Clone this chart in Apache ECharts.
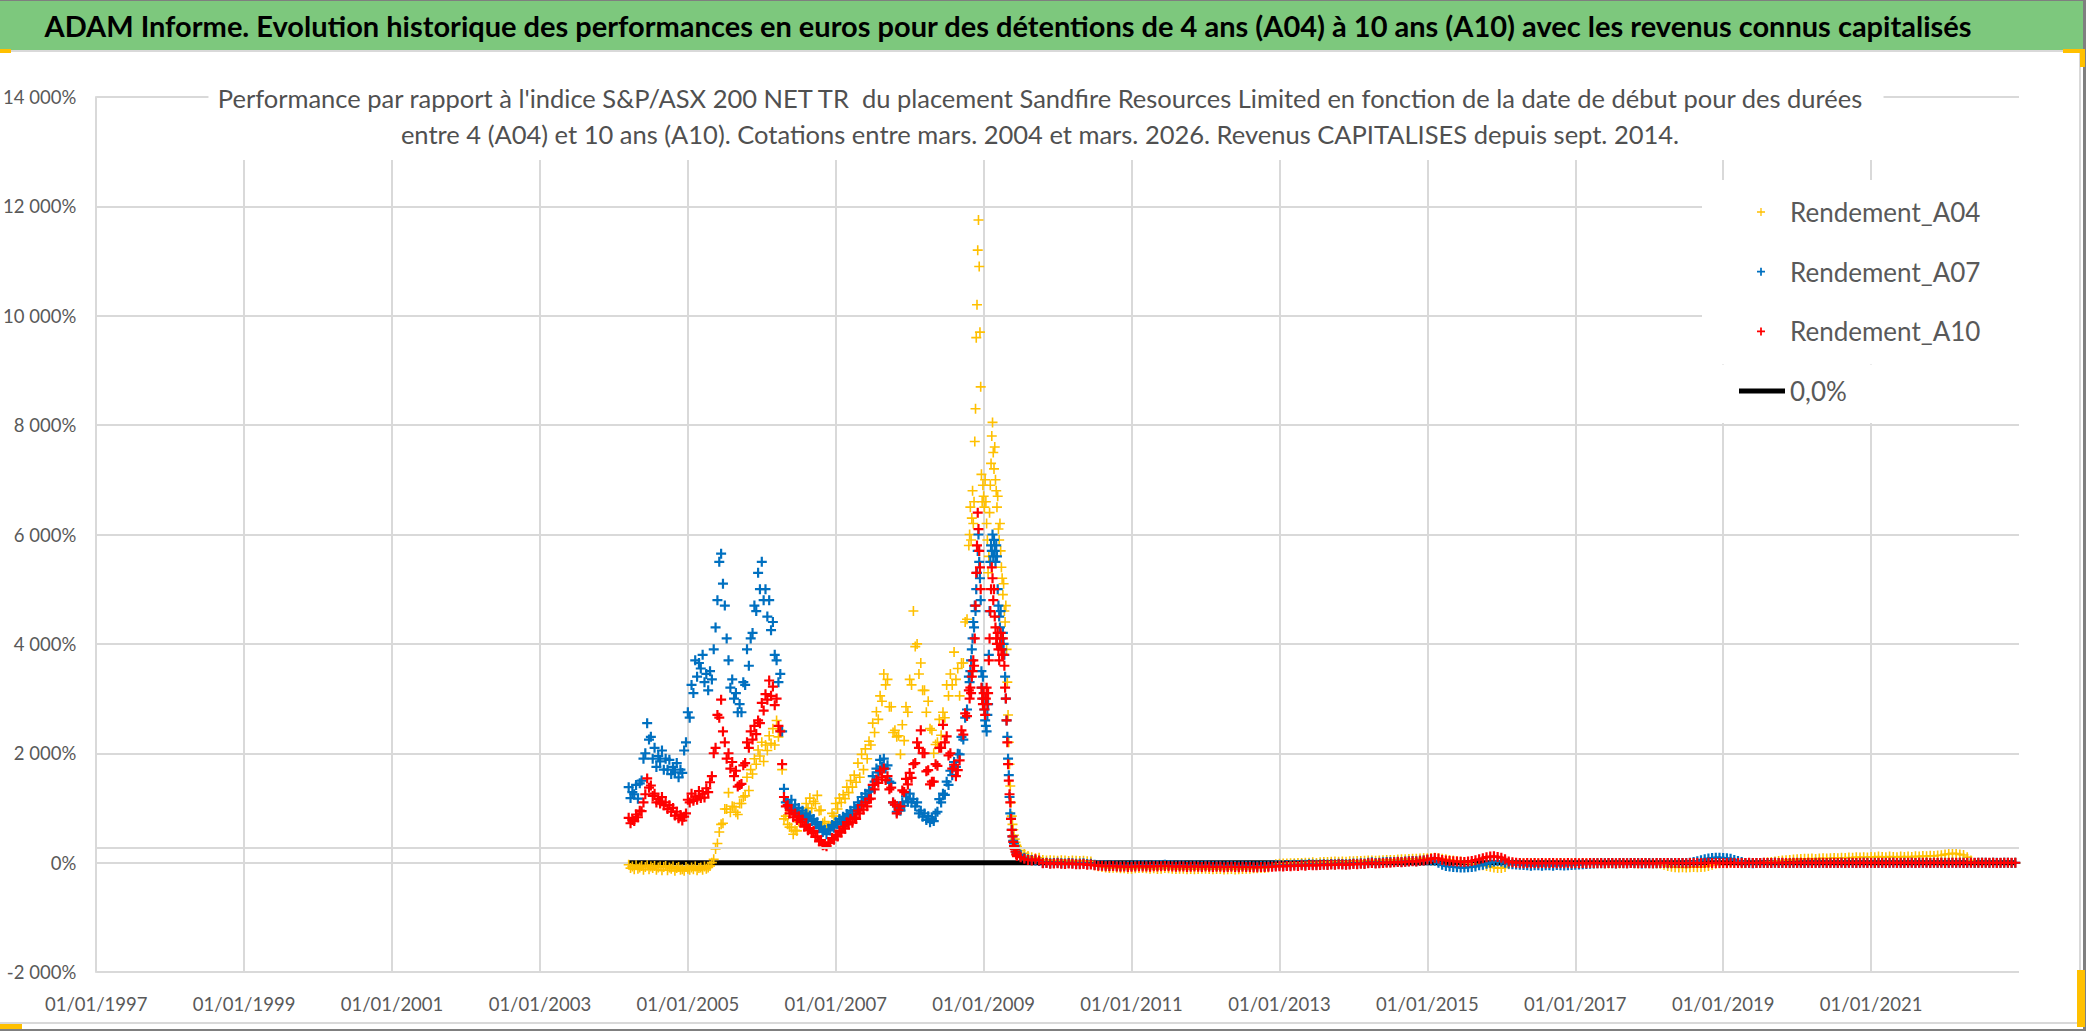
<!DOCTYPE html>
<html><head><meta charset="utf-8">
<script src="https://cdn.jsdelivr.net/npm/echarts@6/dist/echarts.min.js"></script>
<style>html,body{margin:0;padding:0;background:#fff}#c{width:2086px;height:1031px}</style>
</head><body><div id="c"></div>
<script>
// ---------- DATA ----------
const seriesNames = ['Rendement_A04', 'Rendement_A07', 'Rendement_A10'];
const zeroLineName = '0,0%';
const xTickYears = [1997, 1999, 2001, 2003, 2005, 2007, 2009, 2011, 2013, 2015, 2017, 2019, 2021];
const yTicks = [-2000, 0, 2000, 4000, 6000, 8000, 10000, 12000, 14000];

// sampling of start dates (decimal years)
const segAStart = 2004.20, segAStep = 0.025;  // 185 points, to 2008.80
const segBStart = 2008.81, segBStep = 0.01;   // 65 points, to 2009.45
const segCStart = 2009.50, segCStep = 0.05;   // 270 points, to 2022.95

// Rendement_A04 (%)
const a04A = [-40,-100,-70,-120,-50,-110,-90,-60,-130,-80,
  -50,-120,-70,-100,-60,-130,-90,-70,-140,-80,
  -60,-140,-90,-110,-70,-150,-100,-80,-130,-120,
  -150,-80,-110,-130,-90,-120,-70,-140,-100,-90,
  -130,-70,-110,-90,-60,0,60,250,350,560,
  700,720,980,980,1280,920,1030,1020,920,880,
  1080,1080,1200,1220,1560,1320,1700,1620,1900,1800,
  2060,1950,2200,1850,2150,2050,2320,2180,2450,2150,
  2600,2300,2420,1700,800,850,700,650,640,520,
  590,580,750,750,920,880,1080,1000,1180,990,
  1120,1080,1230,950,960,720,750,610,670,660,
  900,850,1080,980,1180,1100,1240,1170,1380,1280,
  1500,1380,1600,1470,1820,1560,1980,1700,2080,1900,
  2220,2150,2550,2380,2760,2620,3050,2950,3450,3250,
  3350,2850,2850,2380,2420,2300,2320,1980,2520,2230,
  2850,2750,3350,3250,4600,3950,4000,3450,3650,3150,
  3150,2750,2950,2450,2420,2000,2160,2200,2620,2330,
  2750,2650,3250,3050,3450,3250,3850,3350,3550,3050,
  3650,3650,4400,4450,5800];
const a04B = [6000,6500,5900,6300,6800,6200,6600,7700,8300,9600,10200,11200,11750,10900,9700,8700,7100,6600,6900,6700,
  6500,7000,6600,6200,5900,5300,5600,6400,6900,7300,7800,8050,7500,7200,7600,7000,6800,6500,6700,6100,
  5900,6200,5700,5400,5200,4900,5100,4600,4400,4700,3900,3300,2700,2200,1800,1400,1100,850,700,600,
  500,430,370,320,290];
const a04C = [220,170,120,100,80,90,50,40,45,40,
  35,45,40,30,40,35,30,35,25,20,
  -50,-65,-80,-90,-100,-95,-95,-105,-105,-110,
  -110,-105,-100,-100,-105,-110,-105,-115,-110,-100,
  -105,-110,-115,-110,-110,-120,-115,-120,-115,-110,
  -110,-115,-120,-115,-115,-125,-120,-115,-125,-120,
  -115,-110,-110,-105,-105,-100,-100,-90,-60,-30,
  -20,-15,-15,-10,-10,-5,-5,0,0,5,
  -5,5,10,10,15,20,15,20,15,25,
  25,30,30,35,40,40,35,40,45,50,
  50,50,55,60,60,65,70,70,75,80,
  80,85,90,80,70,60,50,40,30,20,
  0,-10,-20,-30,-40,-50,-60,-75,-90,-100,
  -100,-80,-30,-15,-10,-15,-10,-12,-8,-10,
  -12,-8,-10,-15,-10,-12,-8,-10,-12,-10,
  -15,-10,-12,-8,-10,-14,-9,-12,-10,-15,
  -12,-10,-15,-10,-12,-8,-10,-14,-9,-12,
  -10,-12,-15,-20,-40,-60,-75,-85,-90,-85,
  -90,-85,-80,-85,-80,-75,-60,-40,-20,-10,
  -5,-10,-5,-8,-5,-10,-8,-5,-6,-5,
  -5,0,5,10,20,30,40,45,50,55,
  60,65,70,70,75,65,75,80,75,80,
  85,80,90,85,95,90,100,95,100,95,
  105,100,110,105,100,110,105,100,110,105,
  110,105,115,110,120,115,125,120,130,135,
  150,160,170,165,150,140,100,40,-5,-8,
  -4,-6,-5,-3,-6,-5,-4,-6,-5,-4];

// Rendement_A07 (%)
const a07A = [1380,1180,1290,1250,1420,1170,1450,1500,1900,2000,
  2550,2250,2300,1900,2100,1750,1950,1850,2050,1700,
  1900,1700,1880,1620,1750,1650,1820,1560,1700,1640,
  2050,2200,2750,2650,3250,3100,3700,3400,3650,3550,
  3800,3300,3450,3150,3500,3350,3900,4300,4800,5500,
  5650,5100,4700,4100,3700,3200,3350,3000,3100,2750,
  2900,2750,3300,3250,3900,3600,4100,4200,4700,4600,
  5300,5000,5500,4800,5000,4500,4800,4250,4400,3800,
  3700,3300,3450,2400,1350,1100,1120,1000,1150,980,
  1060,930,1000,880,950,830,900,800,860,760,
  800,700,740,630,660,560,600,520,610,590,
  690,640,740,700,800,750,840,800,890,850,
  950,890,1010,960,1100,1050,1200,1120,1260,1180,
  1320,1300,1580,1480,1720,1650,1880,1760,1900,1720,
  1780,1480,1460,1100,1060,930,1000,950,1100,1040,
  1210,1120,1260,1100,1160,1030,1100,900,950,840,
  900,780,850,740,800,760,900,930,1160,1100,
  1260,1240,1480,1420,1680,1600,1840,1750,1990,1980,
  2300,2250,2650,2800,3400];
const a07B = [3300,3500,3700,3900,4100,4400,4300,4700,4600,5000,5300,5700,6000,5500,5200,4800,3500,3200,3400,3000,
  2800,2600,2500,2400,2700,2900,3800,4600,5500,5800,5700,6000,5600,5900,5700,5500,5800,5600,5000,4700,
  4500,4300,4600,4100,3900,4200,4000,3800,3400,3000,2600,2300,1900,1600,1200,900,800,600,480,400,
  350,300,250,200,180];
const a07C = [140,90,60,50,40,30,-5,0,-10,-5,
  0,-10,-15,-5,-10,-20,-15,-10,-25,-20,
  -40,-45,-50,-50,-55,-50,-55,-60,-55,-60,
  -55,-50,-45,-50,-50,-55,-45,-50,-45,-40,
  -45,-50,-55,-50,-50,-60,-55,-50,-55,-60,
  -50,-55,-60,-55,-55,-65,-60,-55,-60,-65,
  -55,-60,-60,-65,-65,-60,-60,-55,-55,-50,
  -50,-55,-45,-50,-40,-45,-35,-40,-30,-35,
  -40,-35,-30,-35,-25,-30,-20,-25,-30,-25,
  -15,-20,-10,-15,0,5,-5,0,5,10,
  10,10,15,10,20,25,30,25,35,40,
  45,40,35,0,-40,-60,-70,-80,-85,-90,
  -90,-85,-80,-70,-50,-40,-20,0,20,30,
  20,0,-20,-30,-35,-40,-45,-50,-55,-50,
  -50,-55,-48,-50,-55,-45,-50,-52,-48,-45,
  -40,-35,-30,-25,-20,-15,-12,-10,-12,-8,
  -10,-15,-5,-10,-12,-8,-10,-5,-15,-10,
  -8,-12,-10,-6,-8,-10,-5,-9,-7,-5,
  -5,0,10,25,45,60,75,85,90,90,
  85,80,70,50,30,10,-5,-8,-10,-6,
  -8,-5,-9,-7,-4,-8,-6,-5,-8,-6,
  -4,-7,-5,-8,-6,-3,-7,-5,-6,-4,
  -7,-5,-3,-6,-4,-7,-5,-6,-4,-3,
  -6,-4,-7,-5,-3,-6,-4,-5,-7,-4,
  -5,-3,-6,-4,-5,-3,-6,-4,-5,-3,
  -4,-6,-3,-5,-4,-3,-5,-4,-6,-3,
  -4,-3,-5,-4,-3,-6,-4,-3,-5,-4];

// Rendement_A10 (%)
const a10A = [820,720,780,760,880,830,950,940,1100,1250,
  1540,1370,1410,1220,1260,1100,1160,1080,1200,1050,
  1100,980,1050,930,1000,860,930,810,870,770,
  840,900,1150,1100,1260,1130,1210,1150,1310,1180,
  1260,1190,1360,1290,1470,1580,2000,2100,2700,2650,
  2980,2400,2200,1900,2000,1720,1840,1580,1680,1390,
  1420,1440,1780,1820,2200,2100,2400,2250,2500,2350,
  2600,2550,2920,2780,3080,2980,3330,3050,3220,2880,
  3000,2500,2400,1800,1200,1030,1050,900,950,830,
  900,780,850,740,790,660,690,590,630,540,
  580,470,480,390,410,320,330,300,360,360,
  450,420,510,480,580,550,660,620,740,700,
  800,730,830,800,950,900,1050,970,1100,1030,
  1160,1170,1420,1340,1520,1460,1680,1560,1720,1510,
  1580,1340,1370,1100,1060,900,960,1030,1320,1290,
  1530,1430,1640,1550,1800,1820,2200,2100,2420,2000,
  2000,1670,1690,1430,1480,1480,1800,1770,2100,2100,
  2520,2200,2310,1960,2000,1720,1790,1580,1690,1870,
  2420,2340,2730,2680,3150];
const a10B = [3000,3200,3100,3400,3500,3700,3600,4100,4700,5300,5800,6400,6100,5700,5400,5000,3200,3000,2900,3100,
  2800,2700,3000,3200,2900,3100,3700,4100,4600,5000,5400,5200,4800,5000,4500,4300,4100,4000,4200,3900,
  3700,4000,4200,3900,3800,4100,3800,3600,3200,3000,2600,2200,1800,1500,1250,1100,800,600,480,380,
  300,250,200,150,120];
const a10C = [100,70,50,40,60,40,-10,-5,-20,-15,
  -10,-20,-25,-15,-20,-30,-30,-25,-40,-35,
  -50,-55,-55,-65,-65,-60,-70,-75,-70,-80,
  -75,-70,-65,-70,-70,-75,-65,-70,-65,-60,
  -65,-70,-75,-70,-70,-80,-75,-70,-75,-80,
  -70,-75,-80,-75,-75,-85,-80,-75,-80,-85,
  -75,-80,-80,-85,-85,-80,-80,-75,-75,-70,
  -65,-70,-60,-65,-55,-60,-50,-55,-45,-50,
  -50,-45,-40,-45,-35,-40,-30,-35,-40,-35,
  -25,-30,-20,-25,-10,-5,-15,-10,-5,0,
  0,5,10,5,15,20,25,20,35,40,
  55,70,85,75,50,40,30,25,20,15,
  10,20,30,45,60,80,100,110,115,105,
  90,60,20,5,0,-5,-10,-5,-10,-8,
  -12,-5,-10,-8,-6,-12,-8,-10,-5,-12,
  -8,-10,-6,-12,-8,-5,-10,-7,-12,-8,
  -5,-10,-6,-9,-12,-7,-5,-10,-8,-6,
  -10,-12,-8,-5,-9,-6,-10,-8,-5,-7,
  -10,-6,-8,-5,-9,-7,-4,-8,-6,-5,
  -8,-6,-4,-7,-5,-8,-6,-3,-7,-5,
  -6,-4,-7,-5,-3,-6,-4,-7,-5,-4,
  -6,-3,-5,-4,-6,-5,-3,-4,-6,-5,
  -4,-6,-3,-5,-4,-2,-5,-3,-4,-6,
  -3,-5,-4,-2,-5,-3,-4,-6,-3,-5,
  -4,-2,-5,-3,-4,-3,-5,-2,-4,-3,
  -5,-3,-4,-2,-3,-5,-4,-2,-3,-4,
  -3,-4,-2,-3,-5,-3,-2,-4,-3,-2];

// 0,0% reference line
const zeroLineYears = [2004.20, 2022.95];
const zeroLineValues = [0, 0];
// Excel's shifted horizontal axis gridline (reads ~280%)
const shiftedGridValue = 280;

// ---------- BUILD ----------
function sampleYears(start, step, n) {
  return Array.from({length: n}, (_, i) => Math.round((start + i * step) * 1000) / 1000);
}
function toPairs(xs, ys) { return ys.map((v, i) => [xs[i], v]); }
function buildSeries(a, b, c) {
  return [].concat(
    toPairs(sampleYears(segAStart, segAStep, a.length), a),
    toPairs(sampleYears(segBStart, segBStep, b.length), b),
    toPairs(sampleYears(segCStart, segCStep, c.length), c));
}
const dataA04 = buildSeries(a04A, a04B, a04C);
const dataA07 = buildSeries(a07A, a07B, a07C);
const dataA10 = buildSeries(a10A, a10B, a10C);
const dataZero = toPairs(zeroLineYears, zeroLineValues);

const FONT = 'Lato, "Noto Sans", sans-serif';
const GREY = '#595959';
const GRID = '#d9d9d9';
const PLUS = 'path://M3.9,0H6.1V3.9H10V6.1H6.1V10H3.9V6.1H0V3.9H3.9Z';
const PLUS_THIN = 'path://M4.2,0H5.8V4.2H10V5.8H5.8V10H4.2V5.8H0V4.2H4.2Z';

function fmtPct(v) {
  const s = String(Math.abs(v)).replace(/\B(?=(\d{3})+(?!\d))/g, ' ');
  return (v < 0 ? '-' : '') + s + '%';
}

const chart = echarts.init(document.getElementById('c'), null, {renderer: 'svg'});
chart.setOption({
  animation: false,
  backgroundColor: '#ffffff',
  graphic: [
    {type: 'rect', z: 0, shape: {x: 0, y: 0, width: 2083, height: 50}, style: {fill: '#7DC87D'}},
    {type: 'rect', z: 0, shape: {x: 0, y: 0, width: 2086, height: 1}, style: {fill: '#7f7f7f'}},
    {type: 'rect', z: 0, shape: {x: 0, y: 50, width: 2080, height: 2}, style: {fill: '#d9d9d9'}},
    {type: 'rect', z: 0, shape: {x: 2079, y: 50, width: 2, height: 974}, style: {fill: '#d9d9d9'}},
    {type: 'rect', z: 0, shape: {x: 2083, y: 0, width: 3, height: 1031}, style: {fill: '#7f7f7f'}},
    {type: 'rect', z: 0, shape: {x: 0, y: 1022, width: 2080, height: 2}, style: {fill: '#d9d9d9'}},
    {type: 'rect', z: 0, shape: {x: 0, y: 1029, width: 2086, height: 2}, style: {fill: '#7f7f7f'}},
    {type: 'rect', z: 0, shape: {x: 0, y: 49, width: 11, height: 4}, style: {fill: '#FFC000'}},
    {type: 'rect', z: 0, shape: {x: 2063, y: 49, width: 22, height: 4}, style: {fill: '#FFC000'}},
    {type: 'rect', z: 0, shape: {x: 2080, y: 49, width: 5, height: 18}, style: {fill: '#FFC000'}},
    {type: 'rect', z: 0, shape: {x: 2077, y: 970, width: 8, height: 57}, style: {fill: '#FFC000'}},
    {type: 'rect', z: 0, shape: {x: 0, y: 1024, width: 22, height: 5}, style: {fill: '#FFC000'}}
  ],
  title: [
    {
      text: 'ADAM Informe. Evolution historique des performances en euros pour des détentions de 4 ans (A04) à 10 ans (A10) avec les revenus connus capitalisés',
      left: 1008, top: 11, textAlign: 'center', padding: 0, z: 20,
      textStyle: {fontFamily: FONT, fontSize: 29, fontWeight: 'bold', color: '#000000'}
    },
    {
      text: "Performance par rapport à l'indice S&P/ASX 200 NET TR  du placement Sandfire Resources Limited en fonction de la date de début pour des durées\nentre 4 (A04) et 10 ans (A10). Cotations entre mars. 2004 et mars. 2026. Revenus CAPITALISES depuis sept. 2014.",
      left: 1032, top: 72, textAlign: 'center', padding: [8, 20, 8, 8], z: 20,
      backgroundColor: '#ffffff',
      textStyle: {fontFamily: FONT, fontSize: 25.5, fontWeight: 'normal', color: '#505050', lineHeight: 36}
    }
  ],
  legend: [
    {
      data: [
        {name: seriesNames[0], icon: PLUS_THIN},
        {name: seriesNames[1], icon: PLUS},
        {name: seriesNames[2], icon: PLUS}
      ],
      orient: 'vertical', left: 1702, top: 180, padding: [17, 39, 18, 55],
      itemWidth: 8, itemHeight: 8, itemGap: 29.7, backgroundColor: '#ffffff', selectedMode: false,
      textStyle: {fontFamily: FONT, fontSize: 26, color: GREY, lineHeight: 30, padding: [0, 0, 0, 20]}
    },
    {
      data: [{name: zeroLineName, icon: 'rect', itemStyle: {color: '#000000'}}],
      orient: 'vertical', left: 1702, top: 365, padding: [11, 160, 17, 37],
      itemWidth: 46, itemHeight: 5, backgroundColor: '#ffffff', selectedMode: false,
      textStyle: {fontFamily: FONT, fontSize: 26, color: GREY, lineHeight: 30}
    }
  ],
  grid: {left: 93, right: 67, top: 97, bottom: 59, containLabel: false},
  xAxis: {
    type: 'value', min: xTickYears[0], max: 2023, interval: 2,
    axisLine: {show: true, lineStyle: {color: GRID, width: 2}},
    axisTick: {show: false},
    axisLabel: {showMaxLabel: false, margin: 22, fontFamily: FONT, fontSize: 18.5, color: GREY,
      formatter: v => '01/01/' + v},
    splitLine: {show: true, showMaxLine: false, lineStyle: {color: GRID, width: 2}}
  },
  yAxis: {
    type: 'value', min: yTicks[0], max: yTicks[yTicks.length - 1], interval: 2000,
    axisLine: {show: true, lineStyle: {color: GRID, width: 2}},
    axisTick: {show: false},
    axisLabel: {margin: 20, fontFamily: FONT, fontSize: 18.5, color: GREY, formatter: fmtPct},
    splitLine: {show: true, lineStyle: {width: 2,
      color: yTicks.map(v => v === 0 ? 'rgba(0,0,0,0)' : GRID)}}
  },
  series: [
    {
      name: zeroLineName, type: 'line', data: dataZero, showSymbol: false, symbol: 'none',
      lineStyle: {color: '#000000', width: 5}, itemStyle: {color: '#000000'}, z: 2,
      markLine: {silent: true, symbol: ['none', 'none'], label: {show: false},
        lineStyle: {color: GRID, width: 2, type: 'solid'}, emphasis: {disabled: true},
        data: [{yAxis: shiftedGridValue}]}
    },
    {name: seriesNames[0], type: 'scatter', data: dataA04, symbol: PLUS_THIN, symbolSize: 10,
      itemStyle: {color: '#FFC000', opacity: 1}, z: 3},
    {name: seriesNames[1], type: 'scatter', data: dataA07, symbol: PLUS, symbolSize: 10,
      itemStyle: {color: '#0070C0', opacity: 1}, z: 3},
    {name: seriesNames[2], type: 'scatter', data: dataA10, symbol: PLUS, symbolSize: 10,
      itemStyle: {color: '#FF0000', opacity: 1}, z: 3}
  ]
});
</script>
</body></html>
